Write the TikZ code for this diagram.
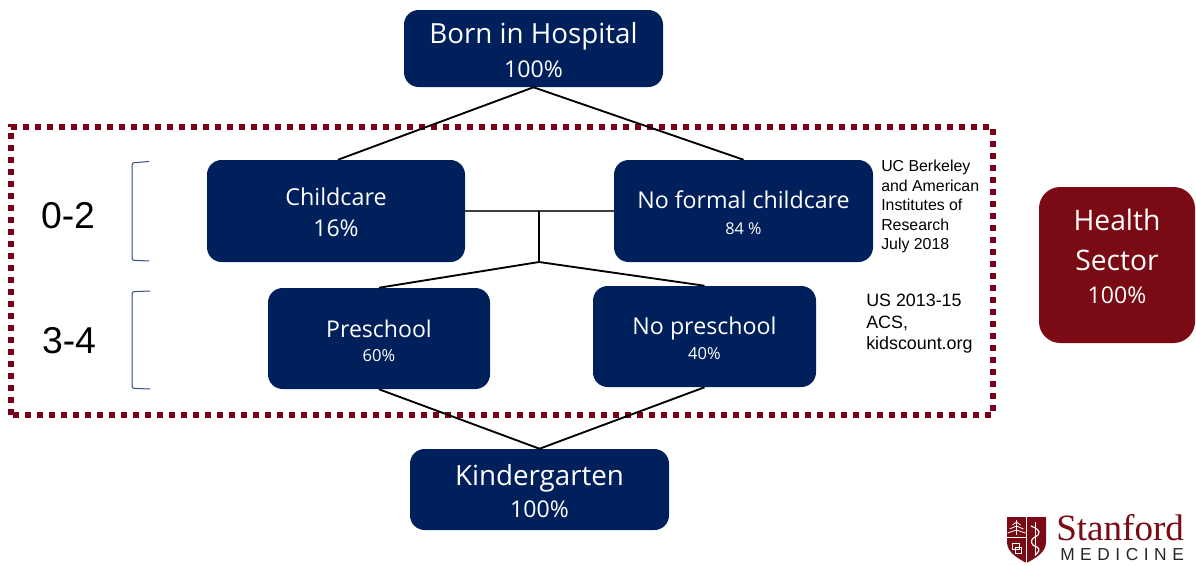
\documentclass[tikz,border=0pt]{standalone}
\usepackage{fontspec}
\setmainfont{Open Sans}
\newfontfamily\arialf{Liberation Sans}
\newfontfamily\timesf{Liberation Serif}
\definecolor{navy}{HTML}{00205B}
\definecolor{cardinal}{HTML}{7A0A14}
\definecolor{dotred}{HTML}{7A0019}
\definecolor{brk}{HTML}{2F4F8A}
\newcommand{\fs}[2]{{\fontsize{#1}{#1}\selectfont #2}}
\newcommand{\tall}[1]{\rule{0pt}{#1pt}}
\newcommand{\deep}[1]{\rule[-#1pt]{0pt}{#1pt}}
\tikzset{
  x=0.75pt,y=-0.75pt,
  box/.style={fill=navy,rounded corners=11pt,text=white,align=center,inner sep=0pt,anchor=center},
  skip/.style={font=\fontsize{12}{#1}\selectfont},
  conn/.style={draw=black,line width=1.4pt},
  hconn/.style={draw=black!75,line width=1.1pt},
  brack/.style={draw=brk,line width=0.75pt},
  agelabel/.style={font=\arialf\fontsize{28}{30}\selectfont,text=black,inner sep=0pt},
  source/.style={text=black,align=left,inner sep=0pt,anchor=north west},
}
\begin{document}
\begin{tikzpicture}
\useasboundingbox (0,0) rectangle (1196,565);
% dotted frame
\draw[dotred,line width=4.2pt,dash pattern=on 4.2pt off 4.8pt] (11,415) -- (11,127) -- (993,127) -- (993,415) -- cycle;
% boxes
\node[box,skip=25.5pt,minimum width=194.25pt,minimum height=57.75pt] (born) at (533.5,48.5) {\tall{18.8}\fs{20.8}{Born in Hospital}\\\fs{17.3}{100\%}};
\node[box,skip=23.25pt,minimum width=193.5pt,minimum height=76.5pt] (cc) at (336,211) {\tall{15.5}\fs{17.5}{Childcare}\\\fs{17.3}{16\%}};
\node[box,skip=19.5pt,minimum width=194.25pt,minimum height=76.5pt] (nf) at (743.5,211) {\tall{16.2}\fs{17.4}{No formal childcare}\\\fs{12.2}{84 \%}};
\node[box,skip=17.75pt,minimum width=166.5pt,minimum height=75.75pt] (ps) at (379,338.5) {\tall{16.9}\fs{17.3}{Preschool}\\\fs{12.4}{60\%}};
\node[box,skip=18.5pt,minimum width=167.25pt,minimum height=75.75pt] (np) at (704.5,336.5) {\tall{16.2}\fs{17.4}{No preschool}\\\fs{12.4}{40\%}};
\node[box,skip=24.25pt,minimum width=194.25pt,minimum height=60.75pt] (kg) at (539.5,489.5) {\tall{18}\fs{20.8}{Kindergarten}\\\fs{17.3}{100\%}};
\node[box,skip=29.5pt,fill=cardinal,minimum width=117pt,minimum height=117pt,rounded corners=16pt] (hs) at (1117,265) {\fs{21.2}{Health}\\\fs{21.2}{Sector}\\[-4.5pt]\deep{13}\fs{17.3}{100\%}};
% connectors
\coordinate (hub) at (539,211);
\coordinate (fork) at (539,262);
\draw[conn] (born.south) -- ([xshift=1.5pt]cc.north);
\draw[conn] (born.south) -- (nf.north);
\draw[hconn] (cc.east) -- (nf.west);
\draw[conn] (hub) -- (fork);
\draw[conn] (fork) -- (ps.north);
\draw[conn] (fork) -- (np.north);
\draw[conn] (ps.south) -- (kg.north);
\draw[conn] (np.south) -- (kg.north);
% brackets
\draw[brack] (149,161.5) -- (137,162.5) .. controls (133,162.5) and (132,163) .. (132,165) -- (132,258) .. controls (132,260) and (133,260.5) .. (137,260.5) -- (149,261);
\draw[brack] (150,291) -- (137,291.5) .. controls (133,291.5) and (132,292) .. (132,294) -- (132,386) .. controls (132,388) and (133,388.5) .. (137,388.5) -- (150,389);
% labels
\node[agelabel] (a1) at (68,216) {0-2};
\node[agelabel] (a2) at (69,341) {3-4};
\node[source,font=\arialf\fontsize{11.9}{14.6}\selectfont] (s1) at (881,160) {UC Berkeley\\and American\\Institutes of\\Research\\July 2018};
\node[source,font=\arialf\fontsize{13.4}{16.1}\selectfont] (s2) at (866,294) {US 2013-15\\ACS,\\kidscount.org};
% logo
\fill[cardinal] (1007,517) -- (1046,517) -- (1046,542) .. controls (1046,552) and (1036,558) .. (1026.5,563) .. controls (1017,558) and (1007,552) .. (1007,542) -- cycle;
\draw[white,line width=0.5pt] (1026.5,517) -- (1026.5,563) (1007,537) -- (1026.5,537);
\draw[white,line width=0.8pt] (1016.5,520) -- (1016.5,535);
\foreach \d/\w in {524/4,528/7,532/9}{
  \draw[white,line width=0.6pt] (1016.5,\d-2) -- (1016.5-\w,\d+1) (1016.5,\d-2) -- (1016.5+\w,\d+1);
}
\draw[white,line width=0.6pt] (1012.5,543) rectangle (1019,549) (1015.5,547) rectangle (1021.5,553);
\draw[white,line width=0.6pt] (1035,522) -- (1035,556);
\draw[white,line width=0.9pt] (1031,526) .. controls (1041,530) and (1041,534) .. (1035,537) .. controls (1029,540) and (1031,546) .. (1037,547) .. controls (1041,549) and (1038,553) .. (1035,555);
\node[inner sep=0pt,anchor=base west,text=cardinal,font=\timesf\fontsize{27.8}{28}\selectfont] (st) at (1056,540) {Stanford};
\node[inner sep=0pt,anchor=base west,text=black!85,font=\arialf\fontsize{13}{14}\selectfont] (md) at (1060,560) {\addfontfeature{LetterSpace=32}MEDICINE};
\end{tikzpicture}
\end{document}
